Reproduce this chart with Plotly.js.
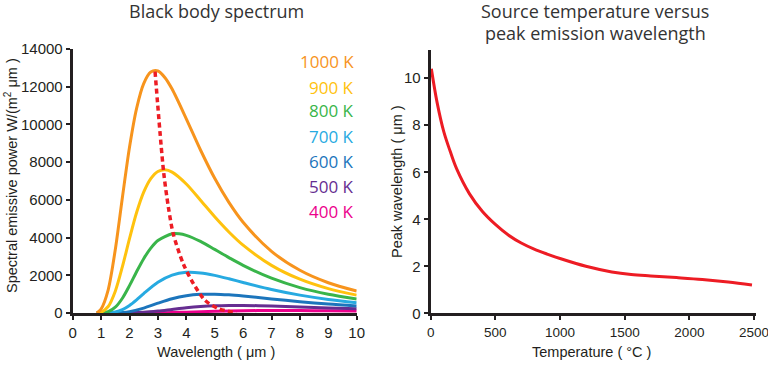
<!DOCTYPE html>
<html>
<head>
<meta charset="utf-8">
<script src="https://cdn.plot.ly/plotly-3.0.1.min.js"></script>
<style>html,body{margin:0;padding:0;background:#fff;}#chart{width:768px;height:368px;}</style>
</head>
<body>
<div id="chart"></div>
<script>
// ---- Left chart: black body spectrum (wavelength in µm, power in W/(m² µm)) ----
const temps = ["1000 K", "900 K", "800 K", "700 K", "600 K", "500 K", "400 K"];
const colors = ["#F7941D", "#FFC20E", "#39B54A", "#27AAE1", "#1C75BC", "#662D91", "#EC008C"];

const wl1000 = [0.85, 1, 1.25, 1.5, 1.75, 2, 2.25, 2.5, 2.75, 3, 3.25, 3.5, 4, 4.5, 5, 5.5, 6, 7, 8, 9, 10];
const p1000  = [0, 211, 1231, 3362, 6127, 8792, 10854, 12168, 12776, 12833, 12479, 11875, 10297, 8644, 7141, 5864, 4812, 3269, 2266, 1606, 1164];

const wl900 = [0.85, 1, 1.25, 1.5, 1.75, 2, 2.25, 2.5, 2.75, 3, 3.25, 3.5, 4, 4.5, 5, 5.5, 6, 7, 8, 9, 10];
const p900  = [0, 43, 342, 1158, 2457, 3944, 5327, 6410, 7127, 7505, 7594, 7472, 6843, 5982, 5104, 4298, 3599, 2526, 1791, 1291, 948];

const wl800 = [0.85, 1, 1.25, 1.5, 1.75, 2, 2.25, 2.5, 2.75, 3, 3.5, 3.75, 4, 4.5, 5, 5.5, 6, 7, 8, 9, 10];
const p800  = [0, 6, 69, 306, 784, 1453, 2191, 2881, 3441, 3844, 4204, 4205, 4120, 3798, 3374, 2939, 2527, 1846, 1348, 994, 742];

const wl700 = [0.85, 1.25, 1.5, 1.75, 2, 2.25, 2.5, 3, 3.5, 4, 4.5, 5, 5.5, 6, 7, 8, 9, 10];
const p700  = [0, 9, 55, 181, 402, 699, 1030, 1631, 2010, 2156, 2127, 1996, 1815, 1618, 1247, 947, 719, 549];

const wl600 = [0.85, 1.5, 1.75, 2, 2.5, 3, 3.5, 4, 4.5, 5, 5.5, 6, 7, 8, 9, 10];
const p600  = [0, 6, 26, 73, 261, 520, 755, 912, 988, 998, 962, 901, 748, 600, 474, 374];

const wl500 = [0.85, 2, 2.5, 3, 3.5, 4, 4.5, 5, 5.5, 6, 7, 8, 9, 10];
const p500  = [0, 7, 38, 105, 191, 275, 339, 380, 399, 401, 371, 322, 270, 223];

const wl400 = [0.85, 2.5, 3, 3.5, 4, 5, 6, 7, 8, 9, 10];
const p400  = [0, 2, 10, 25, 45, 90, 120, 131, 129, 119, 105];

// peak locus (dashed red)
const peakWl = [2.9, 3.2, 3.37, 3.54, 3.89, 4.25, 4.66, 5.13, 5.77];
const peakP  = [12800, 7500, 5600, 4200, 2620, 1560, 670, 230, 0];

// ---- Right chart: source temperature (°C) vs peak wavelength (µm) ----
const tempC  = [5, 50, 100, 150, 200, 300, 400, 500, 600, 700, 800, 900, 1000, 1200, 1400, 1550, 1700, 1900, 2100, 2300, 2484];
const peakUm = [10.4, 8.95, 7.75, 6.9, 6.15, 5.08, 4.33, 3.78, 3.33, 2.99, 2.73, 2.52, 2.33, 2.0, 1.76, 1.65, 1.59, 1.52, 1.44, 1.33, 1.20];

const xTicksL = [0,1,2,3,4,5,6,7,8,9,10];
const yTicksL = [0,2000,4000,6000,8000,10000,12000,14000];
const xTicksR = [0,500,1000,1500,2000,2500];
const yTicksR = [0,2,4,6,8,10];

const series = [[wl1000,p1000],[wl900,p900],[wl800,p800],[wl700,p700],[wl600,p600],[wl500,p500],[wl400,p400]];

const traces = [];
for (let i = series.length - 1; i >= 0; i--) {
  traces.push({x: series[i][0], y: series[i][1], type: "scatter", mode: "lines",
    line: {color: colors[i], width: 3, shape: "spline", smoothing: 0.8},
    xaxis: "x", yaxis: "y", hoverinfo: "skip", name: temps[i]});
}
traces.push({x: peakWl, y: peakP, type: "scatter", mode: "lines",
  line: {color: "#ED1C24", width: 3.5, dash: "5px,3.5px", shape: "spline", smoothing: 0.8},
  xaxis: "x", yaxis: "y", hoverinfo: "skip", name: "peak"});
traces.push({x: tempC, y: peakUm, type: "scatter", mode: "lines",
  line: {color: "#ED1C24", width: 3, shape: "spline", smoothing: 1},
  xaxis: "x2", yaxis: "y2", hoverinfo: "skip", name: "peak wavelength"});

const tickFamily = "Liberation Sans, Arial, sans-serif";
const tickFont = {family: tickFamily, size: 15, color: "#231F20"};
const axisCommon = {showgrid: false, zeroline: false, showline: true, linecolor: "#231F20", linewidth: 3,
  ticks: "outside", ticklen: 4, tickwidth: 2, tickcolor: "#231F20", tickfont: tickFont, fixedrange: true,
  tickformat: "d"};

const P = (x, y) => ({x: x / 768, y: 1 - y / 368});
const annotations = [];
[
  {text: "Black body spectrum", x: 216, y: 11},
  {text: "Source temperature versus", x: 595, y: 11},
  {text: "peak emission wavelength", x: 595, y: 33}
].forEach(a => annotations.push(Object.assign({text: a.text, xref: "paper", yref: "paper",
  xanchor: "center", yanchor: "middle", showarrow: false,
  font: {family: "Open Sans, sans-serif", size: 18, color: "#333"}}, P(a.x, a.y))));

// axis titles
[
  {text: "Wavelength ( μm )", x: 216, y: 352, angle: 0},
  {text: "Spectral emissive power W/(m<sup>2</sup> μm )", x: 11, y: 176, angle: -90},
  {text: "Temperature ( °C )", x: 591, y: 352, angle: 0},
  {text: "Peak wavelength ( μm )", x: 397, y: 182, angle: -90}
].forEach(a => annotations.push(Object.assign({text: a.text, xref: "paper", yref: "paper",
  xanchor: "center", yanchor: "middle", showarrow: false, textangle: a.angle,
  font: {family: tickFamily, size: 14.5, color: "#231F20"}}, P(a.x, a.y))));

const legendY = [62, 87, 111, 137, 161, 186, 211];
temps.forEach((t, i) => {
  annotations.push(Object.assign({text: t, xref: "paper", yref: "paper",
    xanchor: "right", yanchor: "middle", showarrow: false,
    font: {family: "Open Sans, sans-serif", size: 17, color: colors[i]}}, P(356, legendY[i])));
});

const layout = {
  width: 768, height: 368, margin: {l: 0, r: 0, t: 0, b: 0},
  paper_bgcolor: "#fff", plot_bgcolor: "#fff", showlegend: false,
  xaxis: Object.assign({}, axisCommon, {domain: [72.7/768, 356.7/768], range: [0, 10], tickvals: xTicksL}),
  yaxis: Object.assign({}, axisCommon, {domain: [55/368, 319/368], range: [0, 14000], tickvals: yTicksL}),
  xaxis2: Object.assign({}, axisCommon, {domain: [430.7/768, 755.6/768], range: [0, 2512], tickvals: xTicksR, anchor: "y2",
    ticklabeloverflow: "allow", tickfont: {family: tickFamily, size: 13.5, color: "#231F20"}}),
  yaxis2: Object.assign({}, axisCommon, {domain: [54.7/368, 318/368], range: [0, 11.2], tickvals: yTicksR, anchor: "x2"}),
  annotations: annotations
};

Plotly.newPlot("chart", traces, layout, {displayModeBar: false, staticPlot: true});
</script>
</body>
</html>
